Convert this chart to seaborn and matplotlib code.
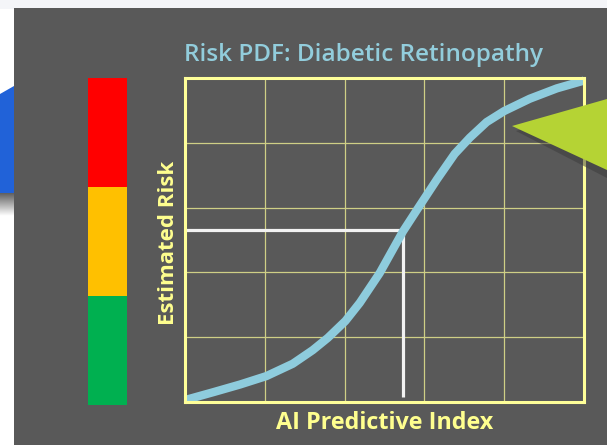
import numpy as np
import pandas as pd
import matplotlib
matplotlib.use("Agg")
import matplotlib.pyplot as plt
import seaborn as sns
from matplotlib.patches import Polygon, Rectangle

# ---- data ----
curve_x = [0.0, 0.35, 0.69, 1.02, 1.35, 1.60, 1.79, 2.01, 2.19, 2.44, 2.73, 2.92,
           3.16, 3.38, 3.57, 3.78, 4.00, 4.32, 4.66, 5.0]
curve_y = [0.03, 0.15, 0.27, 0.40, 0.59, 0.80, 0.99, 1.25, 1.53, 1.99, 2.63, 2.99,
           3.44, 3.83, 4.08, 4.32, 4.49, 4.68, 4.84, 4.96]
marker_index = 2.73
marker_risk = 2.65
grid_ticks = [0, 1, 2, 3, 4, 5]
risk_levels = ["Low", "Medium", "High"]
risk_heights = [1, 1, 1]
risk_colors = ["#00B050", "#FFC000", "#FF0000"]
title_text = "Risk PDF: Diabetic Retinopathy"
xlabel_text = "AI Predictive Index"
ylabel_text = "Estimated Risk"

sns.set_theme(style="white")
plt.rcParams["font.family"] = ["Open Sans", "DejaVu Sans"]

W, H = 607, 445
fig = plt.figure(figsize=(W / 100, H / 100), dpi=100)
fig.patch.set_facecolor("white")

def fx(px):
    return px / W

def fy(py):
    return 1 - py / H

# background decoration axes (whole figure)
bg = fig.add_axes([0, 0, 1, 1], zorder=-10)
bg.axis("off")
bg.add_patch(Rectangle((0, 0), 607, 9, facecolor="#F4F5F8", edgecolor="none"))
bg.add_patch(Rectangle((14, 8), 607 - 14, 445 - 8, facecolor="#595959", edgecolor="none"))
bg.add_patch(Polygon([(0, 94), (14, 86), (14, 193), (0, 193)], closed=True,
                     facecolor="#2162D8", edgecolor="none"))
grad = np.linspace(0, 1, 50).reshape(-1, 1)
bg.imshow(grad, cmap="gray", vmin=-0.6, vmax=1.0, aspect="auto", extent=[0, 14, 216, 193])
bg.set_xlim(0, W)
bg.set_ylim(H, 0)

# ---- risk bar ----
axb = fig.add_axes([fx(88), fy(405), fx(127) - fx(88), fy(78) - fy(405)], zorder=1)
bottoms = np.concatenate([[0], np.cumsum(risk_heights)[:-1]])
axb.bar([0] * len(risk_levels), risk_heights, bottom=bottoms, width=1.0,
        color=risk_colors, edgecolor="none")
axb.set_xlim(-0.5, 0.5)
axb.set_ylim(0, sum(risk_heights))
axb.axis("off")

# ---- main chart ----
ax = fig.add_axes([fx(185), fy(402), fx(584) - fx(185), fy(78) - fy(402)], zorder=1)
ax.set_facecolor("#595959")
df = pd.DataFrame({"x": curve_x, "y": curve_y})
ax.set_xlim(0, 5)
ax.set_ylim(0, 5)
ax.set_xticks(grid_ticks)
ax.set_yticks(grid_ticks)
ax.grid(True, color="#CFCF86", linewidth=0.9)
ax.tick_params(length=0, labelbottom=False, labelleft=False)
ax.set_axisbelow(True)

ax.plot([0, marker_index], [marker_risk, marker_risk], color="#F2F2F2", lw=2.3, zorder=3,
        solid_capstyle="butt")
ax.plot([marker_index, marker_index], [0.08, marker_risk], color="#F2F2F2", lw=2.3, zorder=3,
        solid_capstyle="butt")
sns.lineplot(data=df, x="x", y="y", ax=ax, color="#8ECCDD", linewidth=6, sort=False,
             zorder=4, clip_on=False)
for l in ax.lines:
    l.set_solid_capstyle("butt")
    l.set_solid_joinstyle("round")
for s in ax.spines.values():
    s.set_visible(True)
    s.set_color("#FFFF99")
    s.set_linewidth(2.2)
    s.set_zorder(5)
ax.set_xlabel("")
ax.set_ylabel("")

# texts
fig.text(fx(363), fy(55), title_text, color="#92CDDC", fontsize=17.5, fontweight="semibold",
         ha="center", va="center", zorder=3)
fig.text(fx(384.5), fy(423), xlabel_text, color="#FFFF8F", fontsize=16.8, fontweight="bold",
         ha="center", va="center", zorder=3)
fig.text(fx(168), fy(243), ylabel_text, color="#FFFF8F", fontsize=16, fontweight="bold",
         ha="center", va="center", rotation=90, zorder=3)

# green arrow with shadow (overlay axes)
fg = fig.add_axes([0, 0, 1, 1], zorder=5)
fg.axis("off")
fg.add_patch(Polygon([(516, 131), (607, 104), (607, 178)], closed=True,
                     facecolor="#3A3A3A", edgecolor="none", alpha=0.5))
fg.add_patch(Polygon([(512, 126), (607, 99), (607, 170)], closed=True,
                     facecolor="#B5D334", edgecolor="none"))
fg.set_xlim(0, W)
fg.set_ylim(H, 0)

fig.savefig("out.png", dpi=100)
